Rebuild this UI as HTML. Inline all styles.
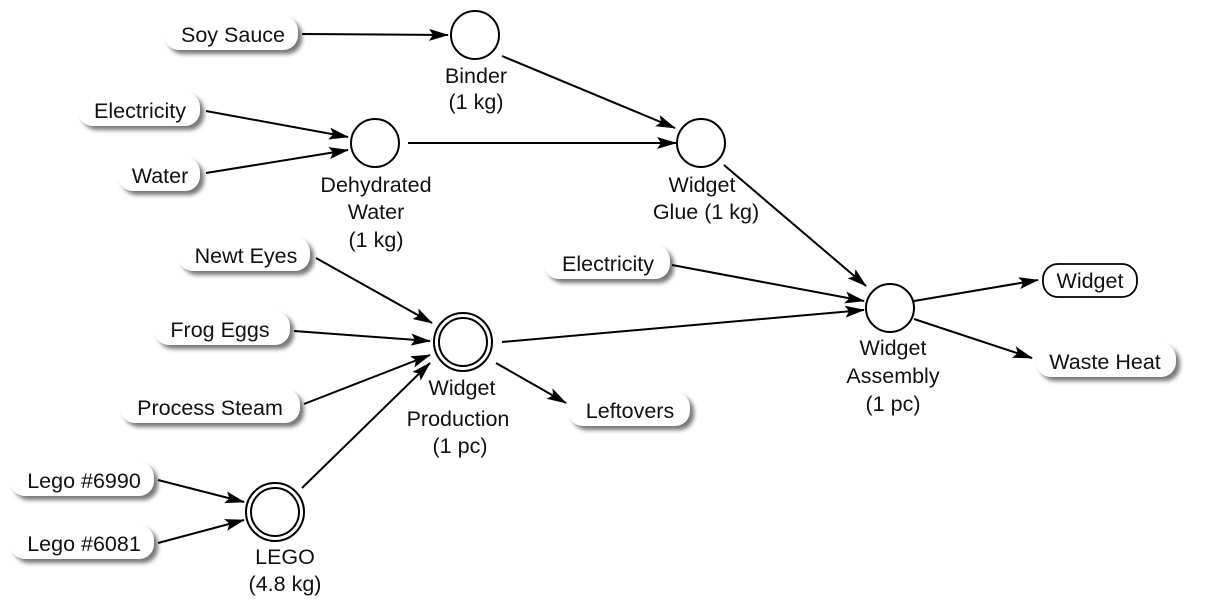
<!DOCTYPE html>
<html><head><meta charset="utf-8"><style>
html,body{margin:0;padding:0;background:#fff;}
svg{display:block;font-family:"Liberation Sans",Arial,sans-serif;}
text{font-size:21.5px;fill:#111;}
</style></head><body>
<svg width="1226" height="609" viewBox="0 0 1226 609" xmlns="http://www.w3.org/2000/svg">
<defs>
<filter id="sh" x="-20%" y="-40%" width="150%" height="200%"><feGaussianBlur stdDeviation="2"/></filter>
<marker id="a" markerWidth="20" markerHeight="12" refX="19" refY="6" orient="auto" markerUnits="userSpaceOnUse">
<path d="M0,0 L20,6 L0,12 L4,6 z" fill="#000"/></marker>
</defs>
<g fill="#777" filter="url(#sh)">
<rect x="168" y="20" width="134" height="34" rx="15"/>
<rect x="82" y="96" width="122" height="34" rx="15"/>
<rect x="122" y="161" width="82" height="34" rx="15"/>
<rect x="182" y="241" width="132" height="34" rx="15"/>
<rect x="158" y="315" width="136" height="34" rx="15"/>
<rect x="124" y="393" width="180" height="34" rx="15"/>
<rect x="14" y="466" width="144" height="34" rx="15"/>
<rect x="14" y="529" width="144" height="34" rx="15"/>
<rect x="548" y="249" width="126" height="34" rx="15"/>
<rect x="572" y="396" width="122" height="34" rx="15"/>
<rect x="1040" y="347" width="140" height="34" rx="15"/>
</g>
<g fill="#fff">
<rect x="164" y="16" width="134" height="34" rx="15"/>
<rect x="78" y="92" width="122" height="34" rx="15"/>
<rect x="118" y="157" width="82" height="34" rx="15"/>
<rect x="178" y="237" width="132" height="34" rx="15"/>
<rect x="154" y="311" width="136" height="34" rx="15"/>
<rect x="120" y="389" width="180" height="34" rx="15"/>
<rect x="10" y="462" width="144" height="34" rx="15"/>
<rect x="10" y="525" width="144" height="34" rx="15"/>
<rect x="544" y="245" width="126" height="34" rx="15"/>
<rect x="568" y="392" width="122" height="34" rx="15"/>
<rect x="1036" y="343" width="140" height="34" rx="15"/>
</g>
<rect x="1043" y="264" width="94" height="33" rx="15" fill="#fff" stroke="#000" stroke-width="1.8"/>
<g stroke="#000" stroke-width="2" fill="none" marker-end="url(#a)">
<line x1="302" y1="34" x2="448" y2="35"/>
<line x1="502" y1="56" x2="675" y2="128"/>
<line x1="206" y1="111" x2="348" y2="137"/>
<line x1="206" y1="173" x2="348" y2="150"/>
<line x1="408" y1="143" x2="676" y2="143"/>
<line x1="724" y1="165" x2="866" y2="286"/>
<line x1="672" y1="265" x2="864" y2="301"/>
<line x1="502" y1="342" x2="864" y2="310"/>
<line x1="914" y1="301" x2="1038" y2="280"/>
<line x1="914" y1="319" x2="1032" y2="358"/>
<line x1="316" y1="258" x2="432" y2="323"/>
<line x1="294" y1="331" x2="430" y2="341"/>
<line x1="304" y1="404" x2="430" y2="355"/>
<line x1="302" y1="488" x2="430" y2="363"/>
<line x1="496" y1="363" x2="566" y2="403"/>
<line x1="158" y1="480" x2="244" y2="502"/>
<line x1="158" y1="543" x2="244" y2="520"/>
</g>
<g stroke="#000" stroke-width="2" fill="#fff">
<circle cx="475" cy="35" r="24"/>
<circle cx="375" cy="143" r="24"/>
<circle cx="701" cy="143" r="24"/>
<circle cx="890" cy="308" r="24"/>
<circle cx="463" cy="342" r="29"/>
<circle cx="463" cy="342" r="24"/>
<circle cx="275" cy="512" r="29"/>
<circle cx="275" cy="512" r="24"/>
</g>
<g text-anchor="middle">
<text x="233" y="42">Soy Sauce</text>
<text x="140" y="118">Electricity</text>
<text x="160" y="183">Water</text>
<text x="246" y="263">Newt Eyes</text>
<text x="220" y="337">Frog Eggs</text>
<text x="210" y="415">Process Steam</text>
<text x="84" y="488">Lego #6990</text>
<text x="84" y="551">Lego #6081</text>
<text x="608" y="271">Electricity</text>
<text x="630" y="418">Leftovers</text>
<text x="1090" y="288">Widget</text>
<text x="1105" y="369">Waste Heat</text>
<text x="476" y="83">Binder</text>
<text x="476" y="109">(1 kg)</text>
<text x="376" y="192">Dehydrated</text>
<text x="376" y="219">Water</text>
<text x="376" y="247">(1 kg)</text>
<text x="702" y="192">Widget</text>
<text x="706" y="219">Glue (1 kg)</text>
<text x="462" y="395">Widget</text>
<text x="458" y="426">Production</text>
<text x="460" y="453">(1 pc)</text>
<text x="893" y="355">Widget</text>
<text x="893" y="383">Assembly</text>
<text x="893" y="411">(1 pc)</text>
<text x="285" y="564">LEGO</text>
<text x="285" y="591">(4.8 kg)</text>
</g>
</svg>
</body></html>
